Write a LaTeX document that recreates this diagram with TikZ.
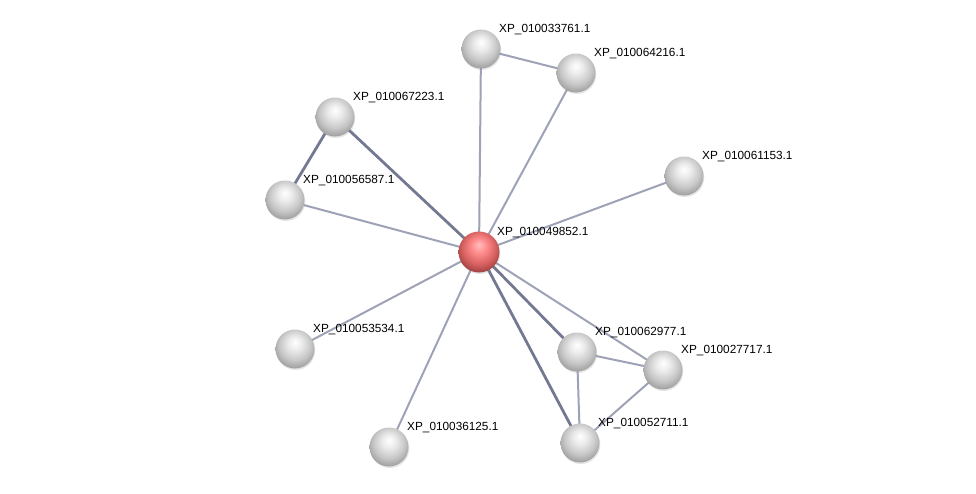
\documentclass[tikz,border=0pt]{standalone}
\usepackage{fontspec}
\setmainfont{Liberation Sans}
\usepackage{tikz}
\usetikzlibrary{shadows}

\definecolor{edgelight}{RGB}{158,162,182}
\definecolor{edgedark}{RGB}{116,121,146}
\pgfdeclareradialshading{greyball}{\pgfpoint{0bp}{9bp}}{%
 color(0bp)=(white); color(9bp)=(white!92!black); color(20bp)=(white!78!black);
 color(30bp)=(white!60!black); color(50bp)=(white!60!black)}
\pgfdeclareradialshading{redball}{\pgfpoint{0bp}{9bp}}{%
 color(0bp)=(white!75!red); color(9bp)=(red!45!white); color(20bp)=(red!55!white!85!black);
 color(30bp)=(red!60!white!60!black); color(50bp)=(red!60!white!60!black)}

\tikzset{
 prot/.style={circle, minimum size=39pt, inner sep=0pt, shading=greyball,
   drop shadow={opacity=.2, shadow xshift=.8pt, shadow yshift=-1.5pt}},
 query/.style={prot, minimum size=41pt, shading=redball},
 lbl/.style={anchor=base west, inner sep=0pt, font=\fontsize{11.8}{14}\selectfont},
 weak/.style={draw=edgelight, line width=2pt},
 strong/.style={draw=edgedark, line width=2.8pt}
}

\begin{document}
\begin{tikzpicture}[x=1pt,y=-1pt]
 \useasboundingbox (0,0) rectangle (976,493);
 % edges first, balls on top
 \coordinate (c) at (479,252);
 \coordinate (p1) at (481,49);
 \coordinate (p2) at (576,73);
 \coordinate (p3) at (335,117);
 \coordinate (p4) at (285,200);
 \coordinate (p5) at (684,176);
 \coordinate (p6) at (295,349);
 \coordinate (p7) at (389,447);
 \coordinate (p8) at (577,352);
 \coordinate (p9) at (663,370);
 \coordinate (p10) at (580,443);

 \draw[weak] (c) -- (p1);
 \draw[weak] (c) -- (p2);
 \draw[weak] (p1) -- (p2);
 \draw[strong] (c) -- (p3);
 \draw[strong] (p3) -- (p4);
 \draw[weak] (c) -- (p4);
 \draw[weak] (c) -- (p5);
 \draw[weak] (c) -- (p6);
 \draw[weak] (c) -- (p7);
 \draw[strong] (c) -- (p8);
 \draw[weak] (c) -- (p9);
 \draw[strong] (c) -- (p10);
 \draw[weak] (p8) -- (p9);
 \draw[weak] (p8) -- (p10);
 \draw[weak] (p9) -- (p10);

 \node[query] (n0) at (c) {};
 \node[prot] (n1) at (p1) {};
 \node[prot] (n2) at (p2) {};
 \node[prot] (n3) at (p3) {};
 \node[prot] (n4) at (p4) {};
 \node[prot] (n5) at (p5) {};
 \node[prot] (n6) at (p6) {};
 \node[prot] (n7) at (p7) {};
 \node[prot] (n8) at (p8) {};
 \node[prot] (n9) at (p9) {};
 \node[prot] (n10) at (p10) {};

 \node[lbl] (t0) at ([shift={(18,-17)}]n0.center) {XP\_010049852.1};
 \node[lbl] (t1) at ([shift={(18,-17)}]n1.center) {XP\_010033761.1};
 \node[lbl] (t2) at ([shift={(18,-17)}]n2.center) {XP\_010064216.1};
 \node[lbl] (t3) at ([shift={(18,-17)}]n3.center) {XP\_010067223.1};
 \node[lbl] (t4) at ([shift={(18,-17)}]n4.center) {XP\_010056587.1};
 \node[lbl] (t5) at ([shift={(18,-17)}]n5.center) {XP\_010061153.1};
 \node[lbl] (t6) at ([shift={(18,-17)}]n6.center) {XP\_010053534.1};
 \node[lbl] (t7) at ([shift={(18,-17)}]n7.center) {XP\_010036125.1};
 \node[lbl] (t8) at ([shift={(18,-17)}]n8.center) {XP\_010062977.1};
 \node[lbl] (t9) at ([shift={(18,-17)}]n9.center) {XP\_010027717.1};
 \node[lbl] (t10) at ([shift={(18,-17)}]n10.center) {XP\_010052711.1};
\end{tikzpicture}
\end{document}
